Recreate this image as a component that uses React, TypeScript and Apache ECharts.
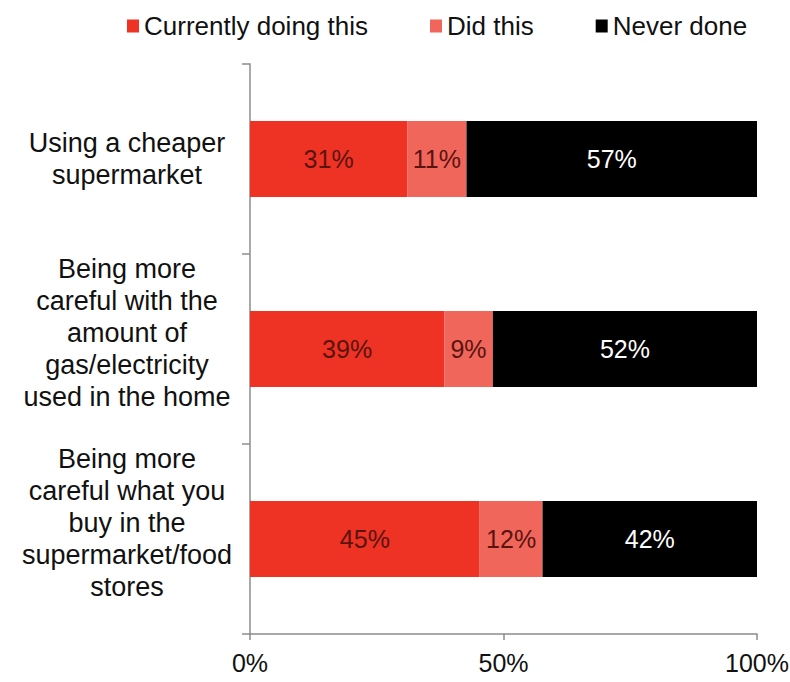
import React, { useEffect, useRef } from "react";
import * as echarts from "echarts";

const categories = [
  "Using a cheaper\nsupermarket",
  "Being more\ncareful with the\namount of\ngas/electricity\nused in the home",
  "Being more\ncareful what you\nbuy in the\nsupermarket/food\nstores",
];
const seriesNames = ["Currently doing this", "Did this", "Never done"];
const currentlyValues = [31.0, 38.3, 45.3];
const didValues = [11.7, 9.6, 12.4];
const neverValues = [57.3, 52.1, 42.3];
const currentlyLabels = ["31%", "39%", "45%"];
const didLabels = ["11%", "9%", "12%"];
const neverLabels = ["57%", "52%", "42%"];
const xTicks = [0, 50, 100];

const FONT = "'Liberation Sans', Arial, sans-serif";

export default function App() {
  const ref = useRef<HTMLDivElement>(null);
  useEffect(() => {
    if (!ref.current) return;
    const chart = echarts.init(ref.current, null, { renderer: "svg" });
    const mk = (
      name: string,
      values: number[],
      labels: string[],
      color: string,
      labelColor: string
    ) => ({
      name,
      type: "bar",
      stack: "total",
      barWidth: "40%",
      data: values,
      itemStyle: { color },
      label: {
        show: true,
        position: "inside",
        fontFamily: FONT,
        fontSize: 25,
        color: labelColor,
        formatter: (p: any) => labels[p.dataIndex],
      },
    });
    chart.setOption({
      animation: false,
      backgroundColor: "#ffffff",
      textStyle: { fontFamily: FONT },
      legend: {
        top: 8,
        left: 122,
        itemWidth: 12,
        itemHeight: 13,
        itemGap: 62,
        icon: "rect",
        textStyle: { fontFamily: FONT, fontSize: 26, color: "#111" },
        data: seriesNames,
      },
      grid: {
        left: 250,
        right: 33,
        top: 64,
        bottom: 48,
        containLabel: false,
        outerBoundsMode: "none",
      },
      xAxis: {
        type: "value",
        min: xTicks[0],
        max: xTicks[xTicks.length - 1],
        interval: 50,
        axisLine: { show: true, lineStyle: { color: "#8c8c8c", width: 1.5 } },
        axisTick: { show: true, length: 6, lineStyle: { color: "#8c8c8c", width: 1.5 } },
        splitLine: { show: false },
        axisLabel: {
          formatter: "{value}%",
          fontFamily: FONT,
          fontSize: 25,
          color: "#111",
          margin: 16,
        },
      },
      yAxis: {
        type: "category",
        inverse: true,
        data: categories,
        axisLine: { show: true, lineStyle: { color: "#8c8c8c", width: 1.5 } },
        axisTick: { show: true, length: 8, interval: 0, alignWithLabel: false, lineStyle: { color: "#8c8c8c", width: 1.5 } },
        axisLabel: {
          interval: 0,
          hideOverlap: false,
          fontFamily: FONT,
          fontSize: 27,
          lineHeight: 32,
          color: "#111",
          align: "center",
          margin: 123,
          formatter: (v: string, i: number) => (i === 0 ? v : v + "\n "),
        },
      },
      series: [
        mk(seriesNames[0], currentlyValues, currentlyLabels, "#ee3224", "#5a1410"),
        mk(seriesNames[1], didValues, didLabels, "#f1665b", "#5a1410"),
        mk(seriesNames[2], neverValues, neverLabels, "#000000", "#ffffff"),
      ],
    });
    return () => chart.dispose();
  }, []);
  return (
    <div
      ref={ref}
      style={{ position: "fixed", left: 0, top: 0, width: 790, height: 682 }}
    />
  );
}
